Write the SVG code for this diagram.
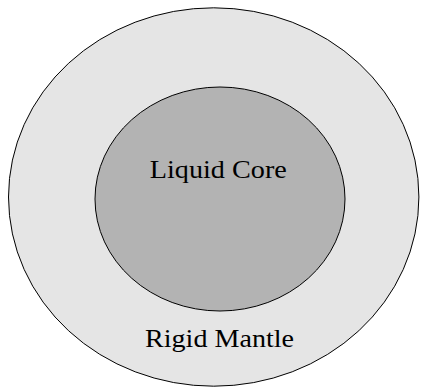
<svg xmlns="http://www.w3.org/2000/svg" width="426" height="390" viewBox="0 0 426 390">
<style>
.shape{stroke:#000;stroke-width:1}
.lbl{font-family:"Liberation Serif","DejaVu Serif",serif;font-size:25px;fill:#000;text-anchor:middle}
</style>
<rect width="426" height="390" fill="#fff"/>
<g id="mantle">
<ellipse class="shape" cx="213.7" cy="197" rx="205.2" ry="189.2" fill="#e5e5e5"/>
<text class="lbl" x="219.5" y="346.5" textLength="149" lengthAdjust="spacingAndGlyphs">Rigid Mantle</text>
</g>
<g id="core">
<ellipse class="shape" cx="220" cy="199" rx="125" ry="112" fill="#b3b3b3"/>
<text class="lbl" x="218.3" y="178" textLength="137" lengthAdjust="spacingAndGlyphs">Liquid Core</text>
</g>
<g id="connectors"/>
</svg>
